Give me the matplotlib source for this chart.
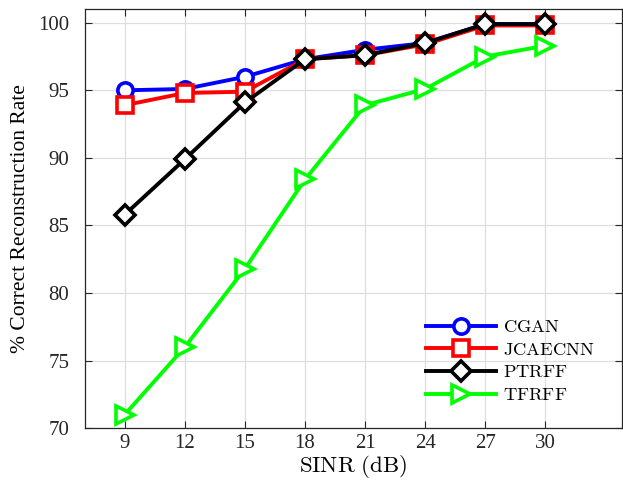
import matplotlib
matplotlib.use("Agg")
import matplotlib.pyplot as plt

sinr = [9, 12, 15, 18, 21, 24, 27, 30]
cgan = [95.0, 95.1, 96.0, 97.3, 98.0, 98.5, 99.9, 99.9]
jcaecnn = [93.9, 94.8, 94.9, 97.3, 97.6, 98.4, 99.8, 99.8]
ptrff = [85.8, 89.9, 94.1, 97.3, 97.6, 98.5, 99.9, 99.9]
tfrff = [71.0, 76.0, 81.8, 88.4, 93.9, 95.1, 97.5, 98.3]

plt.rcParams['font.family'] = ['Liberation Serif', 'DejaVu Serif']
plt.rcParams['mathtext.fontset'] = 'cm'

fig = plt.figure(figsize=(6.23, 4.87), dpi=100)
ax = fig.add_axes([0.136, 0.121, 0.863, 0.860])

ax.plot(sinr, cgan, '-o', color='#0000ff', label=r'$\mathrm{CGAN}$', linewidth=2.8,
        markersize=11, markeredgewidth=2.6, markerfacecolor='white')
ax.plot(sinr, jcaecnn, '-s', color='#ff0000', label=r'$\mathrm{JCAECNN}$', linewidth=2.8,
        markersize=11, markeredgewidth=2.6, markerfacecolor='white')
ax.plot(sinr, ptrff, '-D', color='black', label=r'$\mathrm{PTRFF}$', linewidth=2.8,
        markersize=10, markeredgewidth=2.6, markerfacecolor='white')
ax.plot(sinr, tfrff, '->', color='#00ff00', label=r'$\mathrm{TFRFF}$', linewidth=2.8,
        markersize=13, markeredgewidth=2.6, markerfacecolor='white')

ax.set_xlim(7, 33.85)
ax.set_ylim(70, 101)
ax.set_xticks(sinr)
ax.set_yticks([70, 75, 80, 85, 90, 95, 100])
ax.tick_params(direction='in', top=True, right=True, labelsize=15, colors='#262626',
               length=5, width=0.8)
ax.tick_params(axis='x', pad=4)
ax.tick_params(axis='y', pad=11)
ax.grid(True, color='#dedede', linewidth=0.9)
for s in ax.spines.values():
    s.set_color('#262626')
    s.set_linewidth(0.9)

ax.set_xlabel(r'$\mathrm{SINR\ (dB)}$', fontsize=16.5, labelpad=0)
ax.set_ylabel('% Correct Reconstruction Rate', fontsize=15.5, labelpad=6)

ax.legend(loc='lower right', bbox_to_anchor=(0.970, 0.031), frameon=False, fontsize=13.3,
          handlelength=3.8, labelspacing=0.3, handletextpad=0.38, borderaxespad=0.2)

fig.savefig('out.png', dpi=100)
